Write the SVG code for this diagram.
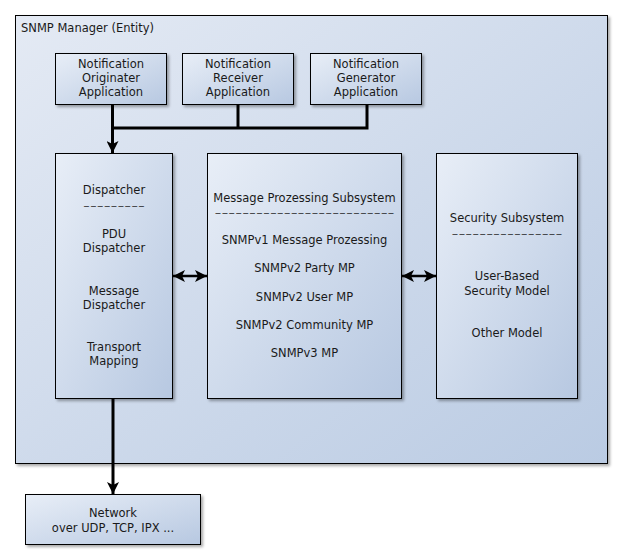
<svg xmlns="http://www.w3.org/2000/svg" width="623" height="560" viewBox="0 0 623 560">
<defs>
  <linearGradient id="gOuter" x1="0" y1="0" x2="1" y2="1">
    <stop offset="0" stop-color="#e4eaf4"/>
    <stop offset="1" stop-color="#bacbe3"/>
  </linearGradient>
  <linearGradient id="gBox" x1="0" y1="0" x2="1" y2="1">
    <stop offset="0" stop-color="#e8eef7"/>
    <stop offset="1" stop-color="#b7c8e1"/>
  </linearGradient>
  <filter id="sh" x="-10%" y="-10%" width="130%" height="130%">
    <feGaussianBlur in="SourceAlpha" stdDeviation="1.5"/>
    <feOffset dx="2" dy="2" result="b"/>
    <feComponentTransfer><feFuncA type="linear" slope="0.35"/></feComponentTransfer>
    <feMerge><feMergeNode/><feMergeNode in="SourceGraphic"/></feMerge>
  </filter>
  <marker id="ah" viewBox="0 0 12 12" refX="12" refY="6" markerWidth="12" markerHeight="12" markerUnits="userSpaceOnUse" orient="auto">
    <path d="M0,0 L12,6 L0,12 L3,6 Z" fill="#000"/>
  </marker>
  <marker id="ahs" viewBox="0 0 12 12" refX="0" refY="6" markerWidth="12" markerHeight="12" markerUnits="userSpaceOnUse" orient="auto">
    <path d="M12,0 L0,6 L12,12 L9,6 Z" fill="#000"/>
  </marker>
</defs>
<style>
  .box { fill: url(#gBox); stroke: #000; stroke-width: 1; filter: url(#sh); }
  .outer { fill: url(#gOuter); stroke: #000; stroke-width: 1; filter: url(#sh); }
  text { font-family: "DejaVu Sans", "Liberation Sans", sans-serif; font-size: 11.5px; fill: #1a1a1a; }
  .c { text-anchor: middle; }
  .d { font-size: 9px; }
  .line { fill: none; stroke: #000; stroke-width: 3; }
  .bi { fill: none; stroke: #000; stroke-width: 2.5; }
</style>

<g id="manager">
  <rect class="outer" x="15.5" y="15.5" width="592" height="448"/>
  <text x="21" y="32">SNMP Manager (Entity)</text>
</g>

<g id="originater">
  <rect class="box" x="55.5" y="53.5" width="111" height="51"/>
  <text class="c" x="111" y="68">Notification</text>
  <text class="c" x="111" y="82">Originater</text>
  <text class="c" x="111" y="96">Application</text>
</g>
<g id="receiver">
  <rect class="box" x="182.5" y="53.5" width="111" height="51"/>
  <text class="c" x="238" y="68">Notification</text>
  <text class="c" x="238" y="82">Receiver</text>
  <text class="c" x="238" y="96">Application</text>
</g>
<g id="generator">
  <rect class="box" x="310.5" y="53.5" width="111" height="51"/>
  <text class="c" x="366" y="68">Notification</text>
  <text class="c" x="366" y="82">Generator</text>
  <text class="c" x="366" y="96">Application</text>
</g>

<g id="dispatcher">
  <rect class="box" x="55.5" y="153.5" width="117" height="245"/>
  <text class="c" x="114" y="194">Dispatcher</text>
  <text class="c d" x="114" y="209" textLength="62" lengthAdjust="spacingAndGlyphs">---------</text>
  <text class="c" x="114" y="238">PDU</text>
  <text class="c" x="114" y="252">Dispatcher</text>
  <text class="c" x="114" y="295">Message</text>
  <text class="c" x="114" y="309">Dispatcher</text>
  <text class="c" x="114" y="351">Transport</text>
  <text class="c" x="114" y="365">Mapping</text>
</g>

<g id="mps">
  <rect class="box" x="207.5" y="153.5" width="194" height="245"/>
  <text class="c" x="304.5" y="202">Message Prozessing Subsystem</text>
  <text class="c d" x="304.5" y="215.5" textLength="180" lengthAdjust="spacingAndGlyphs">--------------------------</text>
  <text class="c" x="304.5" y="244">SNMPv1 Message Prozessing</text>
  <text class="c" x="304.5" y="272">SNMPv2 Party MP</text>
  <text class="c" x="304.5" y="301">SNMPv2 User MP</text>
  <text class="c" x="304.5" y="329">SNMPv2 Community MP</text>
  <text class="c" x="304.5" y="357">SNMPv3 MP</text>
</g>

<g id="security">
  <rect class="box" x="436.5" y="153.5" width="141" height="245"/>
  <text class="c" x="507" y="222">Security Subsystem</text>
  <text class="c d" x="507" y="237" textLength="111" lengthAdjust="spacingAndGlyphs">----------------</text>
  <text class="c" x="507" y="280">User-Based</text>
  <text class="c" x="507" y="295">Security Model</text>
  <text class="c" x="507" y="337">Other Model</text>
</g>

<g id="network">
  <rect class="box" x="25.5" y="494.5" width="175" height="50"/>
  <text class="c" x="113" y="517">Network</text>
  <text class="c" x="113" y="532">over UDP, TCP, IPX ...</text>
</g>

<g id="connectors">
  <polyline class="line" points="238,104 238,128"/>
  <polyline class="line" points="367,104 367,128 111,128"/>
  <line class="line" x1="112.5" y1="104" x2="112.5" y2="153" marker-end="url(#ah)"/>
  <line class="line" x1="113" y1="399" x2="113" y2="494" marker-end="url(#ah)"/>
  <line class="bi" x1="173" y1="276" x2="207" y2="276" marker-start="url(#ahs)" marker-end="url(#ah)"/>
  <line class="bi" x1="402" y1="276" x2="436" y2="276" marker-start="url(#ahs)" marker-end="url(#ah)"/>
</g>
</svg>
